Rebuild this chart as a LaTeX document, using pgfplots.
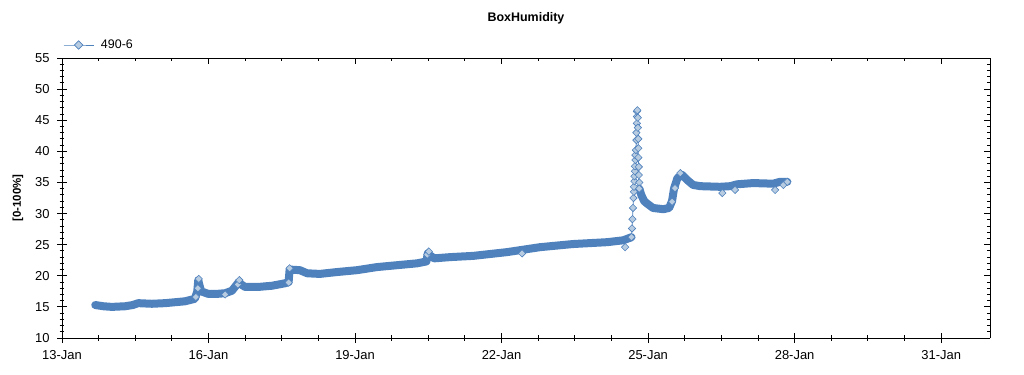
\documentclass[border=0pt]{standalone}
\usepackage{fontspec}
\setmainfont{Liberation Sans}
\usepackage{pgfplots}
\pgfplotsset{compat=1.18}
\definecolor{sblue}{HTML}{4F81BD}
\definecolor{sfill}{HTML}{B7CCE0}
\begin{document}
\begin{tikzpicture}
\useasboundingbox (-62bp,-37bp) rectangle (962bp,338bp);
\pgfplotsset{
  common/.style={
    at={(0,0)}, anchor=south west, scale only axis,
    width=928bp, height=280bp,
    xmin=13, xmax=32, ymin=10, ymax=55,
    xtick={13,16,19,22,25,28,31},
    ytick={10,15,20,25,30,35,40,45,50,55},
    minor x tick num=3, minor y tick num=4,
    axis line style={black, line width=1bp},
    every tick/.style={black, line width=1bp},
  }
}
\begin{axis}[common,
  axis x line*=bottom, axis y line*=left,
  tick align=center,
  major tick length=10bp, minor tick length=5bp,
  xticklabels={13-Jan,16-Jan,19-Jan,22-Jan,25-Jan,28-Jan,31-Jan},
  /pgf/number format/assume math mode=true,
  xticklabel style={font=\fontsize{13}{15}\selectfont, anchor=center, yshift=-12bp},
  yticklabel style={font=\fontsize{13}{15}\selectfont, anchor=east, xshift=-4bp},
  title={BoxHumidity},
  title style={font=\bfseries\fontsize{12.5}{14}\selectfont, at={(axis description cs:0.5,1)}, anchor=center, yshift=34bp},
  ylabel={[0-100\%]},
  ylabel style={font=\bfseries\fontsize{11.5}{14}\selectfont, at={(axis description cs:-0.0474,0.5)}, anchor=center},
  legend style={at={(axis description cs:0,1)}, anchor=west, yshift=13bp, draw=none, fill=none,
    font=\fontsize{12.5}{15}\selectfont, inner xsep=1bp},
  legend image code/.code={\draw[#1, mark repeat=2, mark phase=2] plot coordinates {(0bp,0bp) (15bp,0bp) (30bp,0bp)};},
]
\addlegendimage{color=sblue, line width=0.8bp, mark=square*, mark size=3bp, mark options={rotate=45, fill=sfill, draw=sblue, line width=0.6bp}}
\addlegendentry{\hspace{5bp}490-6}
% thick band before spike
\addplot[forget plot, color=sblue, line width=8bp, line join=round, line cap=round] table {
13.68 15.3
13.85 15.1
14.02 15.0
14.29 15.1
14.45 15.3
14.56 15.6
14.84 15.5
15.11 15.6
15.52 15.9
15.72 16.3
15.77 17.5
15.79 19.3
15.81 18.6
15.85 17.5
15.99 17.1
16.19 17.1
16.34 17.2
16.48 17.6
16.58 18.6
16.62 19.0
16.67 18.6
16.75 18.2
17.01 18.2
17.30 18.4
17.57 18.8
17.64 19.0
17.66 21.0
17.87 20.9
18.02 20.4
18.28 20.3
18.63 20.6
19.04 20.9
19.45 21.4
19.86 21.7
20.27 22.0
20.46 22.3
20.49 23.6
20.53 23.3
20.62 22.8
20.95 23.0
21.42 23.2
22.11 23.8
22.79 24.6
23.46 25.1
24.16 25.4
24.49 25.7
24.66 26.2
};
% thick band after spike
\addplot[forget plot, color=sblue, line width=8bp, line join=round, line cap=round] table {
24.82 34.0
24.86 33.0
24.92 32.0
24.98 31.6
25.10 30.9
25.31 30.7
25.43 30.9
25.49 32.0
25.53 34.0
25.60 35.7
25.70 36.2
25.80 35.4
25.92 34.6
26.07 34.4
26.47 34.3
26.68 34.4
26.82 34.7
27.15 34.9
27.56 34.8
27.70 35.1
27.85 35.1
};
% spike with markers
\addplot[forget plot, color=sblue, line width=0.8bp, mark=square*, mark size=2.6bp, mark options={rotate=45, fill=sfill, draw=sblue, line width=0.6bp}] table {
24.66 26.2
24.67 27.6
24.68 29.1
24.69 30.9
24.70 32.5
24.71 33.5
24.71 34.3
24.72 35.2
24.72 36.0
24.73 36.8
24.73 37.6
24.74 38.6
24.74 39.4
24.75 40.2
24.76 41.8
24.76 43.0
24.77 44.5
24.77 45.6
24.77 46.4
24.78 46.6
24.79 45.4
24.79 43.8
24.80 42.0
24.80 40.5
24.80 39.0
24.81 37.5
24.81 36.2
24.82 35.0
24.82 34.0
};
% scattered visible markers on the band
\addplot[forget plot, only marks, mark=square*, mark size=2.6bp, mark options={rotate=45, fill=sfill, draw=sblue, line width=0.6bp}] table {
15.74 16.6
15.78 18.0
15.80 19.5
16.34 17.0
16.60 18.6
16.63 19.3
17.64 18.9
17.66 21.2
20.48 23.4
20.51 23.9
22.42 23.6
24.53 24.6
25.49 31.9
25.55 34.1
25.66 36.5
26.52 33.3
26.78 33.8
27.60 33.8
27.77 34.6
27.85 35.1
};
\end{axis}
\begin{axis}[common,
  axis x line*=top, axis y line*=right,
  tick align=inside,
  major tick length=6bp, minor tick length=3bp,
  xticklabels={}, yticklabels={},
]
\end{axis}
\end{tikzpicture}
\end{document}
